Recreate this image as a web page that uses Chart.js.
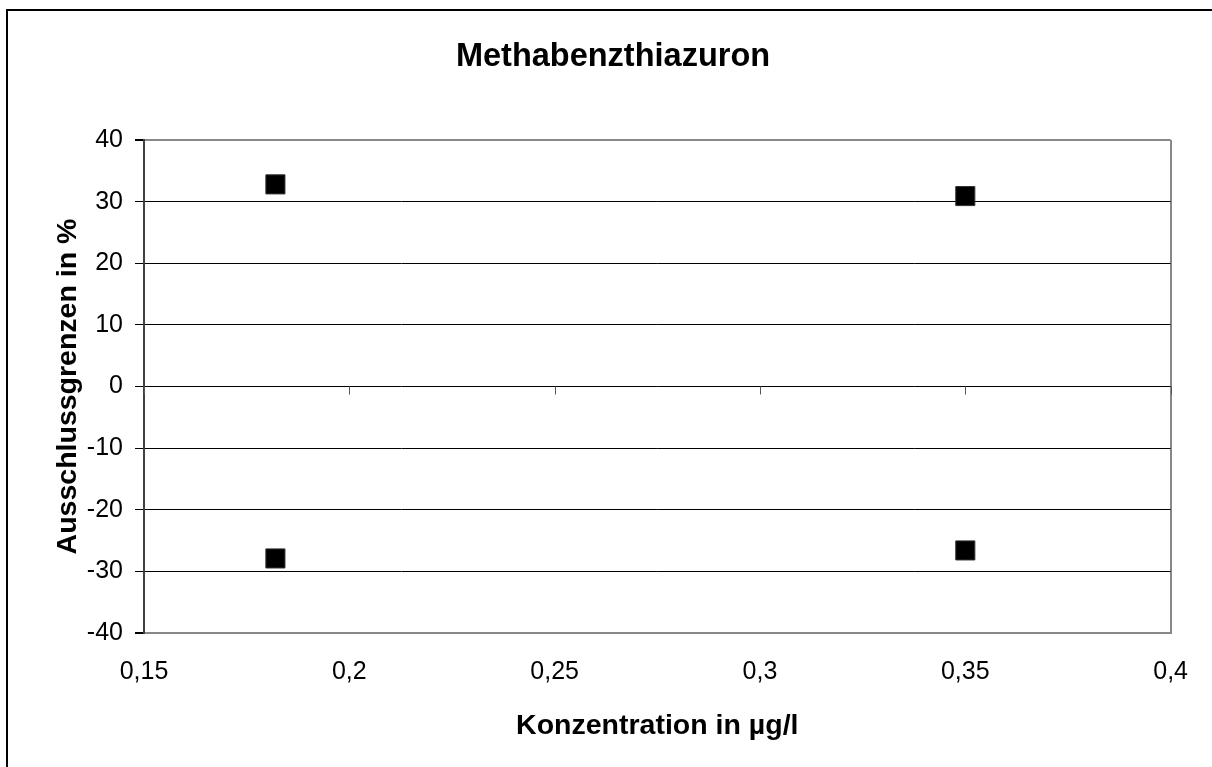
<!DOCTYPE html>
<html>
<head>
<meta charset="utf-8">
<script src="https://cdn.jsdelivr.net/npm/chart.js@4.4.1/dist/chart.umd.min.js"></script>
<style>
  html, body { margin: 0; padding: 0; background: #fff; overflow: hidden; }
  #wrap { position: relative; width: 1212px; height: 767px; }
  #frame { position: absolute; left: 6px; top: 9px; width: 1300px; height: 900px;
           border-left: 2px solid #000; border-top: 2px solid #000; pointer-events: none; }
</style>
</head>
<body>
<div id="wrap">
  <canvas id="c" width="1212" height="767"></canvas>
  <div id="frame"></div>
</div>
<script>
const chartTitle = 'Methabenzthiazuron';
const xAxisTitle = 'Konzentration in µg/l';
const yAxisTitle = 'Ausschlussgrenzen in %';

const concentrations = [0.182, 0.35];
const upperLimits = [32.8, 30.9];
const lowerLimits = [-27.9, -26.6];

const xTickValues = [0.15, 0.2, 0.25, 0.3, 0.35, 0.4];
const xTickLabels = ['0,15', '0,2', '0,25', '0,3', '0,35', '0,4'];
const yTickValues = [-40, -30, -20, -10, 0, 10, 20, 30, 40];
const yTickLabels = ['-40', '-30', '-20', '-10', '0', '10', '20', '30', '40'];

const FONT = 'Liberation Sans, Arial, Helvetica, sans-serif';

function pts(xs, ys) { return xs.map((x, i) => ({ x: x, y: ys[i] })); }

const zeroTicks = {
  id: 'zeroTicks',
  afterDatasetsDraw(chart) {
    const ctx = chart.ctx;
    const xs = chart.scales.x, ys = chart.scales.y;
    const y0 = ys.getPixelForValue(0);
    ctx.save();
    ctx.strokeStyle = '#555';
    ctx.lineWidth = 1;
    xTickValues.forEach(v => {
      const px = Math.round(xs.getPixelForValue(v)) + 0.5;
      ctx.beginPath();
      ctx.moveTo(px, y0);
      ctx.lineTo(px, y0 + 8);
      ctx.stroke();
    });
    ctx.restore();
  }
};

const markerStyle = {
  pointStyle: 'rect',
  pointRadius: 13.5,
  pointHoverRadius: 13.5,
  backgroundColor: '#000',
  borderColor: '#333',
  borderWidth: 1,
  showLine: false
};

new Chart(document.getElementById('c'), {
  type: 'scatter',
  data: {
    datasets: [
      Object.assign({ label: 'Obere Grenze', data: pts(concentrations, upperLimits) }, markerStyle),
      Object.assign({ label: 'Untere Grenze', data: pts(concentrations, lowerLimits) }, markerStyle)
    ]
  },
  options: {
    responsive: false,
    animation: false,
    events: [],
    layout: { padding: { left: 54, right: 40, top: 0, bottom: 0 } },
    plugins: {
      legend: { display: false },
      tooltip: { enabled: false },
      title: {
        display: true,
        text: chartTitle,
        color: '#000',
        font: { family: FONT, size: 32.5, weight: 'bold' },
        padding: { top: 38, bottom: 63 }
      }
    },
    scales: {
      x: {
        type: 'linear',
        position: 'bottom',
        min: 0.15, max: 0.4,
        afterBuildTicks(scale) { scale.ticks = xTickValues.map(v => ({ value: v })); },
        afterFit(scale) { scale.height = 134; },
        ticks: {
          color: '#000',
          font: { family: FONT, size: 25 },
          padding: 24,
          maxRotation: 0,
          autoSkip: false,
          callback(value, index) { return xTickLabels[index]; }
        },
        grid: {
          drawTicks: false,
          lineWidth: 2,
          color(ctx) { return ctx.tick && ctx.tick.value === 0.4 ? '#888' : 'rgba(0,0,0,0)'; }
        },
        border: { display: true, color: '#888', width: 2 },
        title: {
          display: true,
          text: xAxisTitle,
          color: '#000',
          font: { family: FONT, size: 28.5, weight: 'bold' },
          padding: { top: 0, bottom: 24 }
        }
      },
      y: {
        type: 'linear',
        position: 'left',
        min: -40, max: 40,
        afterBuildTicks(scale) { scale.ticks = yTickValues.map(v => ({ value: v })); },
        afterFit(scale) { scale.width = 90; },
        ticks: {
          color: '#000',
          font: { family: FONT, size: 25 },
          padding: 12,
          autoSkip: false,
          callback(value, index) { return yTickLabels[index]; }
        },
        grid: {
          drawTicks: true,
          tickLength: 9,
          tickColor: '#000',
          lineWidth(ctx) { return ctx.tick && Math.abs(ctx.tick.value) === 40 ? 2 : 1; },
          color(ctx) { return ctx.tick && Math.abs(ctx.tick.value) === 40 ? '#888' : '#000'; }
        },
        border: { display: true, color: '#404040', width: 2 },
        title: {
          display: true,
          text: yAxisTitle,
          color: '#000',
          font: { family: FONT, size: 28.5, weight: 'bold', lineHeight: 1.0 },
          padding: { top: 0, bottom: 0 }
        }
      }
    }
  },
  plugins: [zeroTicks]
});
</script>
</body>
</html>
